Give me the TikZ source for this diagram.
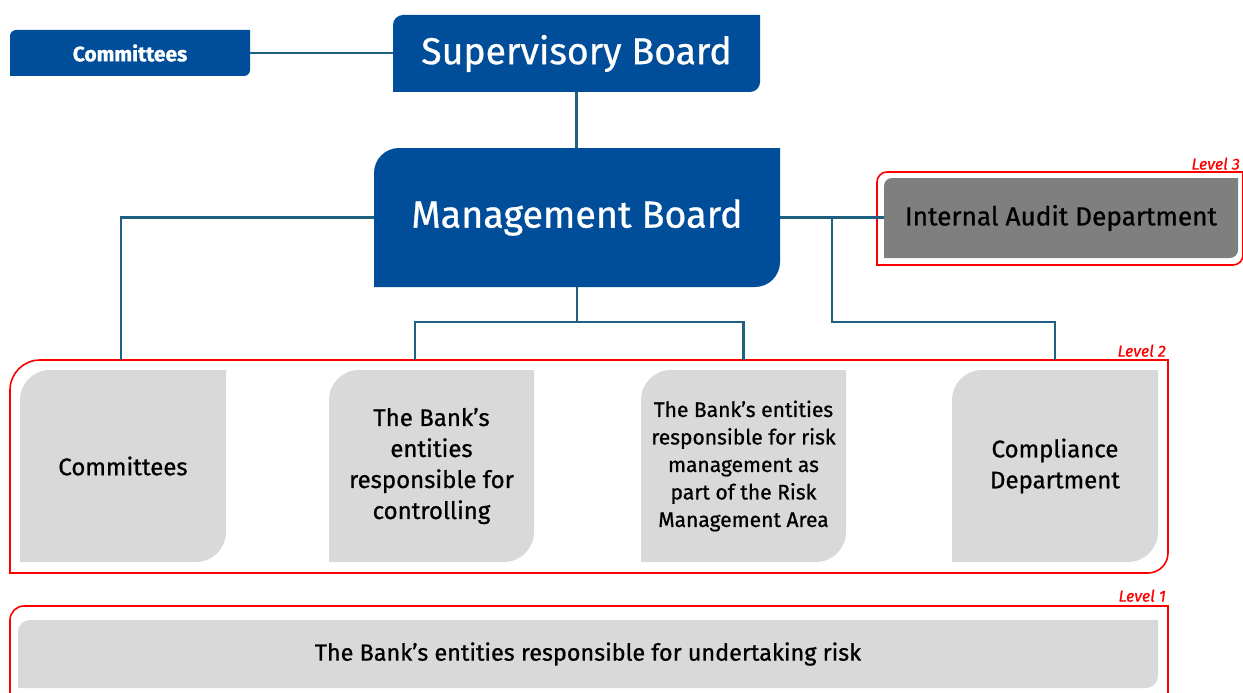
\documentclass[tikz,border=0pt]{standalone}
\usepackage{fontspec}
\setmainfont{Fira Sans}[FakeBold=0.8,BoldFont=Fira Sans Bold]
\newfontfamily\medfont{Fira Sans}[FakeBold=0.8]
\definecolor{ingblue}{RGB}{0,77,153}
\definecolor{connc}{RGB}{30,96,128}
\definecolor{lgrey}{RGB}{217,217,217}
\definecolor{dgrey}{RGB}{127,127,127}
\definecolor{lvlred}{RGB}{255,0,0}
\newcommand\leafnode[9]{%
 \path[#2] (#3,{-(#4)-(#7)}) arc[start angle=180,end angle=90,radius=#7] -- (#5,-#4) -- (#5,{-(#6)+(#7)}) arc[start angle=0,end angle=-90,radius=#7] -- (#3,-#6) -- cycle;
 \node[base,#8,minimum width={(#5)-(#3)},minimum height={(#6)-(#4)}] (#1) at ({((#3)+(#5))/2},{-((#4)+(#6))/2}) {#9};}
\begin{document}
\begin{tikzpicture}[x=1pt,y=1pt,
  base/.style={rectangle,inner sep=0pt,outer sep=0pt,align=center},
  bluefill/.style={fill=ingblue},
  greyfill/.style={fill=lgrey},
  darkfill/.style={fill=dgrey},
  frame/.style={draw=lvlred,line width=1.6pt},
  whitetxt/.style={text=white},
  greytxt/.style={text=black,font=\medfont\fontsize{24}{31}\selectfont},
  lvl/.style={text=lvlred,font=\itshape\fontsize{16}{18}\selectfont,inner sep=0pt,anchor=south east},
  conn/.style={draw=connc,line width=2.2pt}]
\useasboundingbox (0,0) rectangle (1243,-693);
% frames
\path[frame] (877,-182) arc[start angle=180,end angle=90,radius=10] -- (1243,-172) -- (1243,-255) arc[start angle=0,end angle=-90,radius=10] -- (877,-265) -- cycle;
\path[frame] (10,-390) arc[start angle=180,end angle=90,radius=30] -- (1168,-360) -- (1168,-553) arc[start angle=0,end angle=-90,radius=20] -- (10,-573) -- cycle;
\path[frame] (10,-700) -- (10,-620) arc[start angle=180,end angle=90,radius=14] -- (1168,-606) -- (1168,-700);
\node[lvl] (l3) at (1240,-170) {Level 3};
\node[lvl] (l2) at (1166,-357) {Level 2};
\node[lvl] (l1) at (1166,-602) {Level 1};
% top blue boxes
\leafnode{ct}{bluefill}{10}{30}{250}{76}{6}{whitetxt,font=\bfseries\fontsize{21}{24}\selectfont}{Committees}
\leafnode{sb}{bluefill}{393}{15}{760}{92}{10}{whitetxt,font=\medfont\fontsize{37.4}{40}\selectfont}{Supervisory Board}
\leafnode{mb}{bluefill}{374}{148}{780}{287}{25}{whitetxt,font=\medfont\fontsize{37.7}{40}\selectfont}{\raisebox{2pt}{Management Board}}
\leafnode{ia}{darkfill}{884}{178}{1238}{258}{8}{text=black,font=\medfont\fontsize{26.2}{30}\selectfont}{Internal Audit Department}
% level 2 boxes
\leafnode{c1}{greyfill}{20}{370}{226}{562}{30}{greytxt}{Committees}
\leafnode{c2}{greyfill}{329}{370}{534}{562}{30}{greytxt}{The Bank’s\\entities\\responsible for\\controlling}
\leafnode{c3}{greyfill}{641}{370}{846}{562}{30}{greytxt,font=\medfont\fontsize{21}{27.5}\selectfont}{The Bank’s entities\\responsible for risk\\management as\\part of the Risk\\Management Area}
\leafnode{c4}{greyfill}{952}{370}{1158}{562}{30}{greytxt}{Compliance\\Department}
% level 1 box
\leafnode{u1}{greyfill}{18}{620}{1158}{688}{12}{greytxt,font=\medfont\fontsize{23.4}{30}\selectfont}{The Bank’s entities responsible for undertaking risk}
% connectors
\coordinate (j1) at (577,-322);
\coordinate (j2) at (832,-217.5);
\coordinate (j3) at (832,-322);
\draw[conn] (ct.east) -- (ct.east -| sb.west);
\draw[conn] (sb.south) -- (sb.south |- mb.north);
\draw[conn,shorten >=10pt] (mb.west) -| ([xshift=-2pt]c1.north);
\draw[conn] (mb.south) -- (j1);
\draw[conn,shorten >=10pt] (j1) -| ([xshift=-16.5pt]c2.north);
\draw[conn,shorten >=10pt] (j1) -| (c3.north);
\draw[conn] (mb.east) -- (mb.east -| ia.west);
\draw[conn,shorten >=10pt] (j2) -- (j3) -| (c4.north);
\end{tikzpicture}
\end{document}
